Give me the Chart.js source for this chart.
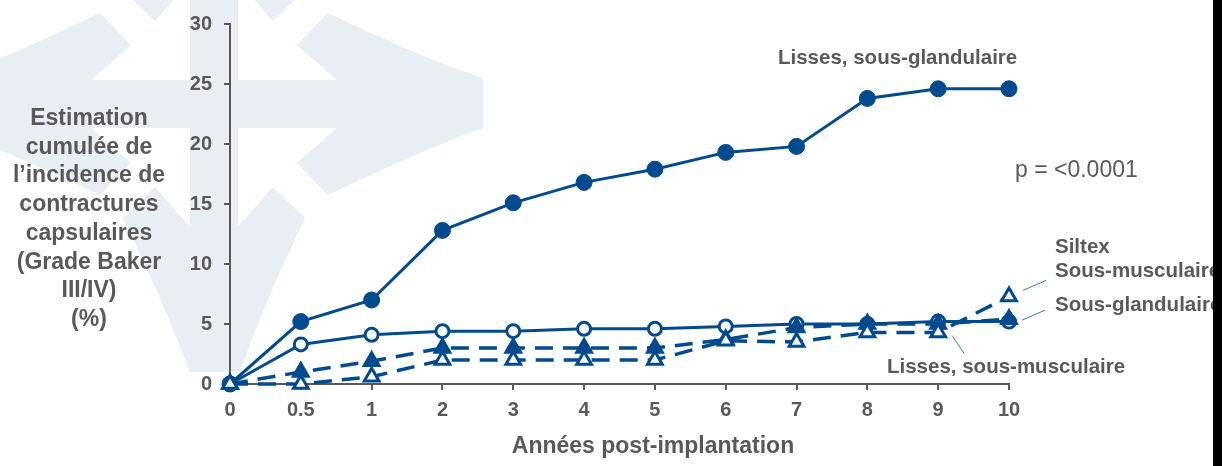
<!DOCTYPE html>
<html>
<head>
<meta charset="utf-8">
<script src="https://cdn.jsdelivr.net/npm/chart.js@4"></script>
<style>
  html, body { margin: 0; padding: 0; background: #fff; }
  #wrap { width: 1222px; height: 466px; position: relative; }
</style>
</head>
<body>
<div id="wrap"><canvas id="chart"></canvas></div>
<script>
// Data
const years = ["0", "0.5", "1", "2", "3", "4", "5", "6", "7", "8", "9", "10"];
const lissesGland = [0, 5.2, 7.0, 12.8, 15.1, 16.8, 17.9, 19.3, 19.8, 23.8, 24.6, 24.6];
const lissesMusc = [0, 3.3, 4.1, 4.4, 4.4, 4.6, 4.6, 4.8, 5.0, 5.0, 5.2, 5.2];
const siltexGland = [0, 1.0, 1.9, 3.0, 3.0, 3.0, 3.0, 3.7, 4.7, 5.0, 5.0, 5.4];
const siltexMusc = [0, 0, 0.6, 2.0, 2.0, 2.0, 2.0, 3.6, 3.5, 4.3, 4.3, 7.3];
const yTicks = [0, 5, 10, 15, 20, 25, 30];

const blue = "#004a8d";
const grey = "#595959";
const fontFam = "'Liberation Sans', Arial, sans-serif";

// Light background logo (four curved arrows)
const watermark = {
  id: "watermark",
  beforeDraw(chart) {
    const ctx = chart.ctx;
    const cx = 214, cy = 104;
    ctx.save();
    ctx.beginPath();
    ctx.rect(0, 0, 500, 372);
    ctx.clip();
    ctx.fillStyle = "#e9eef5";
    for (let k = 0; k < 4; k++) {
      ctx.save();
      ctx.translate(cx, cy);
      ctx.rotate(k * Math.PI / 2);
      ctx.beginPath();
      ctx.moveTo(0, -24);
      ctx.lineTo(123, -24);
      ctx.lineTo(83, -59);
      ctx.lineTo(114, -91);
      ctx.quadraticCurveTo(210, -45, 269, -26);
      ctx.lineTo(269, 24);
      ctx.quadraticCurveTo(210, 45, 114, 91);
      ctx.lineTo(83, 59);
      ctx.lineTo(123, 24);
      ctx.lineTo(0, 24);
      ctx.closePath();
      ctx.fill();
      ctx.restore();
    }
    ctx.restore();
  }
};

// Titles, labels and leader lines
const annotations = {
  id: "annotations",
  afterDraw(chart) {
    const ctx = chart.ctx;
    const x = chart.scales.x, y = chart.scales.y;
    ctx.save();
    ctx.fillStyle = grey;
    ctx.textAlign = "center";
    ctx.textBaseline = "alphabetic";
    ctx.font = "bold 23px " + fontFam;
    const yTitle = ["Estimation", "cumulée de", "l\u2019incidence de", "contractures",
      "capsulaires", "(Grade Baker", "III/IV)", "(%)"];
    yTitle.forEach((t, i) => ctx.fillText(t, 89, 125 + i * 28.7));
    ctx.fillText("Années post-implantation", 653, 453);

    ctx.textAlign = "left";
    ctx.font = "bold 20.5px " + fontFam;
    ctx.fillText("Lisses, sous-glandulaire", 778, 64);
    ctx.fillText("Siltex", 1055, 253);
    ctx.fillText("Sous-musculaire", 1055, 277);
    ctx.fillText("Sous-glandulaire", 1055, 311);
    ctx.fillText("Lisses, sous-musculaire", 887, 373);
    ctx.font = "23px " + fontFam;
    ctx.fillText("p = <0.0001", 1015, 177);

    // leader lines anchored on the data points
    ctx.strokeStyle = "#3f78b8";
    ctx.lineWidth = 1;
    const x10 = x.getPixelForValue(11), x9 = x.getPixelForValue(10);
    const ySm = y.getPixelForValue(siltexMusc[11]);
    const ySg = y.getPixelForValue(siltexGland[11]);
    const yLm = y.getPixelForValue(lissesMusc[10]);
    ctx.beginPath();
    ctx.moveTo(x10 + 14, ySm - 6); ctx.lineTo(x10 + 37, ySm - 16);
    ctx.moveTo(x10 + 13, ySg + 1); ctx.lineTo(x10 + 36, ySg - 9);
    ctx.moveTo(x9 + 14, yLm + 14); ctx.lineTo(x9 + 26, yLm + 32);
    ctx.stroke();

    // black strip on the right edge
    ctx.fillStyle = "#000";
    ctx.fillRect(1213, 0, 9, 466);
    ctx.restore();
  }
};

new Chart(document.getElementById("chart"), {
  type: "line",
  data: {
    labels: years,
    datasets: [
      {
        label: "Lisses, sous-glandulaire",
        data: lissesGland,
        borderColor: blue, borderWidth: 3,
        pointStyle: "circle", pointRadius: 8, pointBorderWidth: 1,
        pointBackgroundColor: blue, pointBorderColor: blue,
        order: 3, clip: false
      },
      {
        label: "Lisses, sous-musculaire",
        data: lissesMusc,
        borderColor: blue, borderWidth: 3,
        pointStyle: "circle", pointRadius: 6.5, pointBorderWidth: 3,
        pointBackgroundColor: "#fff", pointBorderColor: blue,
        order: 2, clip: false
      },
      {
        label: "Siltex, sous-glandulaire",
        data: siltexGland,
        borderColor: blue, borderWidth: 3.5, borderDash: [18, 10],
        pointStyle: "triangle", pointRadius: 8.5, pointBorderWidth: 3,
        pointBackgroundColor: blue, pointBorderColor: blue,
        order: 1, clip: false
      },
      {
        label: "Siltex, sous-musculaire",
        data: siltexMusc,
        borderColor: blue, borderWidth: 3.5, borderDash: [18, 10],
        pointStyle: "triangle", pointRadius: 8.5, pointBorderWidth: 3,
        pointBackgroundColor: "#fff", pointBorderColor: blue,
        order: 0, clip: false
      }
    ]
  },
  options: {
    responsive: true,
    maintainAspectRatio: false,
    animation: false,
    layout: { padding: { top: 22, right: 213, bottom: 0, left: 0 } },
    plugins: {
      legend: { display: false },
      tooltip: { enabled: false }
    },
    scales: {
      x: {
        type: "category",
        offset: false,
        border: { color: grey, width: 2 },
        grid: { drawOnChartArea: false, drawTicks: true, tickLength: 6, color: grey, lineWidth: 2 },
        ticks: { color: grey, font: { family: fontFam, size: 20, weight: "bold" }, padding: 8, maxRotation: 0, autoSkip: false },
        afterFit(scale) { scale.height = 82; }
      },
      y: {
        min: 0, max: 30,
        border: { color: grey, width: 2 },
        grid: { drawOnChartArea: false, drawTicks: true, tickLength: 6, color: grey, lineWidth: 2 },
        afterBuildTicks(scale) { scale.ticks = yTicks.map(v => ({ value: v })); },
        ticks: { color: grey, font: { family: fontFam, size: 20, weight: "bold" }, padding: 12 },
        afterFit(scale) { scale.width = 230; }
      }
    }
  },
  plugins: [watermark, annotations]
});
</script>
</body>
</html>
